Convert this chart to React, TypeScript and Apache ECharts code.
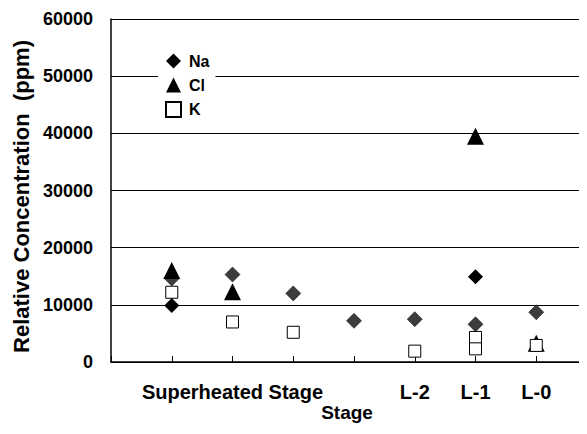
import React, { useEffect, useRef } from "react";
import * as echarts from "echarts";

// Stage positions on the x axis (1..7) and their printed labels
const labelPositions = [2, 5, 6, 7];
const labelTexts = ["Superheated Stage", "L-2", "L-1", "L-0"];

// [stage position, concentration ppm]
const naBlack: [number, number][] = [
  [1, 9900],
  [6, 14900],
];
const naGray: [number, number][] = [
  [1, 14600],
  [2, 15300],
  [3, 12000],
  [4, 7200],
  [5, 7500],
  [6, 6600],
  [7, 8700],
];
const cl: [number, number][] = [
  [1, 16000],
  [2, 12300],
  [6, 39500],
  [7, 3300],
];
const k: [number, number][] = [
  [1, 12200],
  [2, 7000],
  [3, 5200],
  [5, 1900],
  [6, 4300],
  [6, 2300],
  [7, 2900],
];

const FONT = "'Liberation Sans', Arial, sans-serif";

export default function App() {
  const ref = useRef<HTMLDivElement>(null);
  useEffect(() => {
    if (!ref.current) return;
    const chart = echarts.init(ref.current, null, { renderer: "svg" });
    chart.setOption({
      animation: false,
      backgroundColor: "#fff",
      textStyle: { fontFamily: FONT },
      grid: {
        left: 111,
        top: 19,
        height: 343,
        width: 486,
        containLabel: false,
        outerBoundsMode: "none",
      },
      legend: {
        data: ["Na", "Cl", "K"],
        orient: "vertical",
        left: 158,
        top: 50,
        itemWidth: 15,
        itemHeight: 15,
        itemGap: 8,
        padding: [3, 6, 3, 7],
        backgroundColor: "#fff",
        textStyle: { fontFamily: FONT, fontSize: 16, fontWeight: "bold", color: "#000", padding: [0, 0, 0, 3] },
      },
      xAxis: {
        type: "value",
        min: 0,
        max: 8,
        interval: 1,
        name: "Stage",
        nameLocation: "middle",
        nameGap: 41,
        nameMoveOverlap: false,
        nameTextStyle: { fontFamily: FONT, fontSize: 19, fontWeight: "bold", color: "#000", padding: [0, 14, 0, 0] },
        splitLine: { show: false },
        axisLine: { show: true, lineStyle: { color: "#000", width: 1.5 } },
        axisTick: { show: true, inside: true, length: 6, lineStyle: { color: "#000" } },
        axisLabel: {
          margin: 20,
          fontFamily: FONT,
          fontSize: 20,
          fontWeight: "bold",
          color: "#000",
          formatter: (v: number) => {
            const i = labelPositions.indexOf(v);
            return i >= 0 ? labelTexts[i] : "";
          },
        },
      },
      yAxis: {
        type: "value",
        min: 0,
        max: 60000,
        interval: 10000,
        name: "Relative Concentration  (ppm)",
        nameLocation: "middle",
        nameGap: 79,
        nameMoveOverlap: false,
        nameTextStyle: { fontFamily: FONT, fontSize: 22, fontWeight: "bold", color: "#000", padding: [0, 12, 0, 0] },
        axisLine: { show: true, lineStyle: { color: "#000", width: 1.5 } },
        axisTick: { show: false },
        splitLine: { show: true, lineStyle: { color: "#000", width: 1 } },
        axisLabel: {
          margin: 18,
          fontFamily: FONT,
          fontSize: 18,
          fontWeight: "bold",
          color: "#000",
          formatter: (v: number) => String(v),
        },
      },
      series: [
        {
          name: "Na",
          type: "scatter",
          data: naBlack,
          symbol: "diamond",
          symbolSize: 15,
          itemStyle: { color: "#000", opacity: 1 },
        },
        {
          name: "Na",
          type: "scatter",
          data: naGray,
          symbol: "diamond",
          symbolSize: 15,
          itemStyle: { color: "#3c3c3c", borderColor: "#000", borderWidth: 0.5, opacity: 1 },
        },
        {
          name: "Cl",
          type: "scatter",
          data: cl,
          symbol: "triangle",
          symbolSize: 17,
          itemStyle: { color: "#000", opacity: 1 },
        },
        {
          name: "K",
          type: "scatter",
          data: k,
          symbol: "rect",
          symbolSize: 12,
          itemStyle: { color: "#fff", borderColor: "#000", borderWidth: 1, opacity: 1 },
        },
      ],
    });
    return () => chart.dispose();
  }, []);
  return <div ref={ref} style={{ width: 587, height: 434, margin: -8 }} />;
}
